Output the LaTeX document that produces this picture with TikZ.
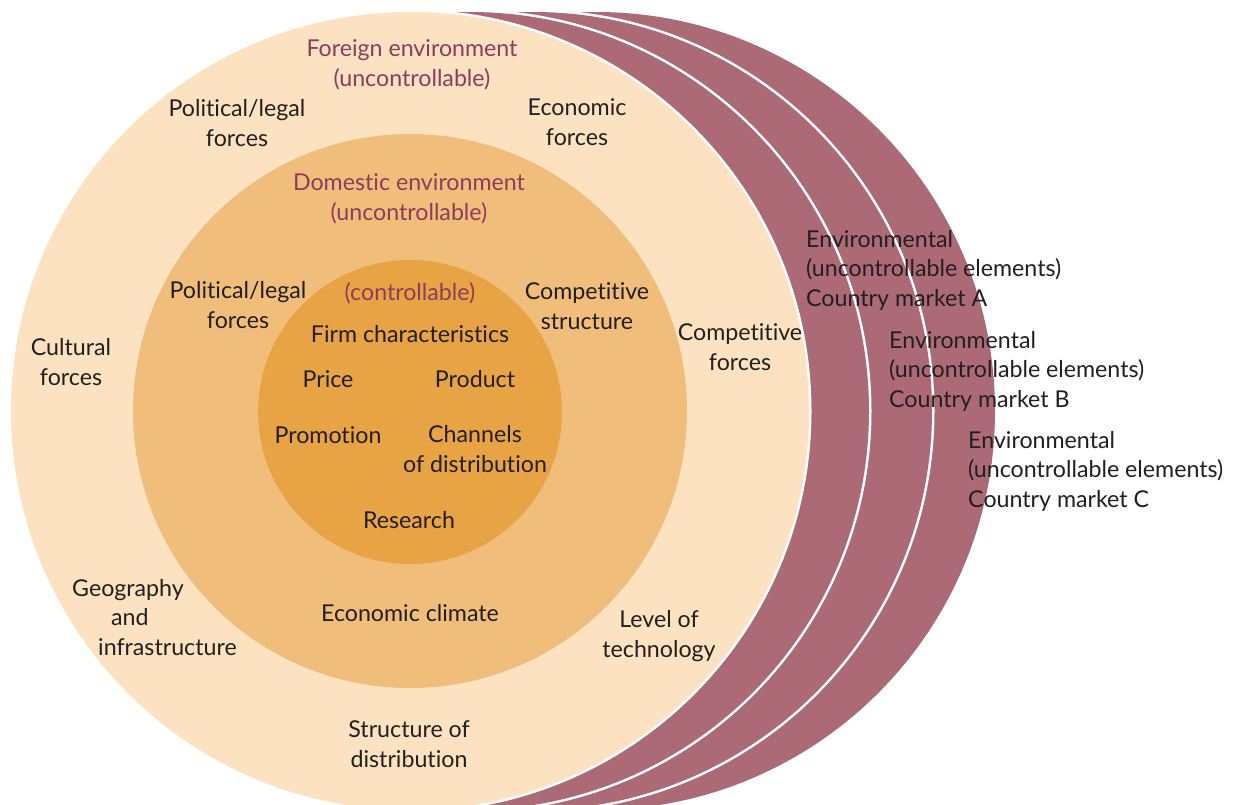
\documentclass[tikz,border=0pt]{standalone}
\usepackage{fontspec}
\setmainfont{Lato}[Ligatures=NoCommon]
\definecolor{maroon}{HTML}{AC6A76}
\definecolor{peach}{HTML}{FDE2C1}
\definecolor{domestic}{HTML}{F0BE7A}
\definecolor{inner}{HTML}{E8A444}
\definecolor{headtxt}{HTML}{8C3C5C}
\definecolor{darktxt}{HTML}{231F20}
\begin{document}
\begin{tikzpicture}[x=1pt,y=-1pt,
  txt/.style={font=\fontsize{23.2}{29.5}\selectfont, text=darktxt, align=center, inner sep=0pt, anchor=base},
  headtxt/.style={txt, text=headtxt},
  envtxt/.style={txt, align=left, anchor=base west},
  gap/.style={fill=white},
  market/.style={fill=maroon}]
\useasboundingbox (0,0) rectangle (1234,804);
\fill[white] (0,0) rectangle (1234,804);
\begin{scope}
\clip (0,0) rectangle (1234,804);
\path[market] (596,411) circle[radius=399pt];
\path[gap] (533,411) circle[radius=401.5pt];
\path[market] (533,411) circle[radius=399pt];
\path[gap] (470,411) circle[radius=401.5pt];
\path[market] (470,411) circle[radius=399pt];
\path[gap] (410,411) circle[radius=401.5pt];
\path[fill=peach] (410,411) circle[radius=399pt];
\path[fill=domestic] (410,411) circle[radius=277pt];
\path[fill=inner] (410,412) circle[radius=152pt];
\end{scope}
% foreign environment (multi-line nodes: base = last line)
\node[headtxt] (foreign) at (412,86) {Foreign environment\\(uncontrollable)};
\node[txt] (polout) at (237,146) {Political/legal\\forces};
\node[txt] (econout) at (577,145) {Economic\\forces};
\node[txt] (cult) at (71,385) {Cultural\\forces};
\node[txt] (compout) at (740,370) {Competitive\\forces};
\node[txt, align=left, anchor=base west] (geo) at (72,655) {Geography\\\hspace*{39pt}and\\\hspace*{26pt}infrastructure};
\node[txt] (tech) at (659,657) {Level of\\technology};
\node[txt] (struct) at (409,767) {Structure of\\distribution};
% domestic environment
\node[headtxt] (domestic) at (409,220) {Domestic environment\\(uncontrollable)};
\node[txt] (poldom) at (238,328) {Political/legal\\forces};
\node[txt] (compdom) at (587,329) {Competitive\\structure};
\node[txt] (climate) at (410,621) {Economic climate};
% controllable
\node[headtxt] (contr) at (410,300) {(controllable)};
\node[txt] (firm) at (410,342) {Firm characteristics};
\node[txt] (price) at (328,387) {Price};
\node[txt] (product) at (475,387) {Product};
\node[txt] (promo) at (328,443) {Promotion};
\node[txt] (channels) at (475,472) {Channels\\of distribution};
\node[txt] (research) at (409,528) {Research};
% country markets
\node[envtxt] (mktA) at (806,306) {Environmental\\(uncontrollable elements)\\Country market A};
\node[envtxt] (mktB) at (889,407) {Environmental\\(uncontrollable elements)\\Country market B};
\node[envtxt] (mktC) at (968,507) {Environmental\\(uncontrollable elements)\\Country market C};
\end{tikzpicture}
\end{document}
